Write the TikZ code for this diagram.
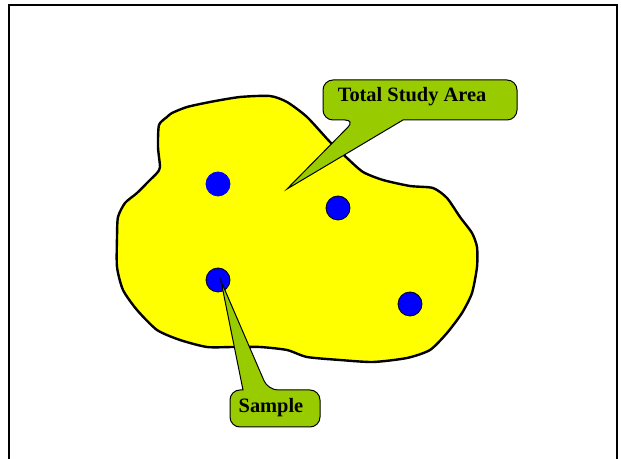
\documentclass[tikz,border=0pt]{standalone}
\usepackage{fontspec}
\setmainfont{Liberation Serif}
\usetikzlibrary{positioning}
\definecolor{studyyellow}{RGB}{255,255,0}
\definecolor{sampleblue}{RGB}{0,0,255}
\definecolor{calloutgreen}{RGB}{153,204,0}
\tikzset{
  sample dot/.style={circle,draw,line width=0.4pt,fill=sampleblue,minimum size=12pt,inner sep=0pt},
  callout/.style={draw,line width=0.5pt,fill=calloutgreen},
  callout text/.style={font=\bfseries\fontsize{10.2}{12}\selectfont,inner sep=0pt},
}

\begin{document}
\begin{tikzpicture}[x=0.5pt,y=-0.5pt]
        \useasboundingbox (0,0) rectangle (621,459);
        % frame
        \draw[line width=1.1pt] (9,470) -- (9,5) -- (617,5) -- (617,470);

        % study area
        \draw[line width=1.2pt,fill=studyyellow] plot[smooth cycle,tension=0.4] coordinates {
          (160,167) (158,147) (159,125) (167,117) (172,113) (187,107) (210,102)
          (240,97) (270,96) (287,102) (307,117) (330,142) (347,158) (363,172)
          (383,180) (410,186) (433,188) (447,198) (460,217) (472,233) (477,247)
          (477,267) (472,293) (462,313) (447,333) (430,350) (407,358) (373,362)
          (340,360) (307,357) (287,350) (260,347) (233,347) (207,347) (180,340)
          (157,330) (137,310) (123,290) (117,267) (117,237) (118,217) (125,203)
          (137,193) (150,180) (157,173)};

        % samples
        \node[sample dot,draw=sampleblue] (s1) at (218,184) {};
        \node[sample dot] (s2) at (338,208) {};
        \node[sample dot] (s3) at (218,280) {};
        \node[sample dot] (s4) at (410,304) {};

        % callouts
        \coordinate (areatip) at (287,189);
        \draw[callout] (areatip) -- (403,120) [rounded corners=5pt] -- (517,120) -- (517,80)
          -- (323,80) -- (323,120) -- (355,120) [sharp corners] -- cycle;
        \node[callout text] (arealabel) at (412,97) {Total Study Area};

        \draw[callout] ([shift={(3,1)}]s3.center) -- (243,390) [rounded corners=5pt] -- (230,390)
          -- (230,427) -- (320,427) -- (320,390) -- (268,390) [sharp corners] -- cycle;
        \node[callout text] (samplelabel) at (271,408) {Sample};
\end{tikzpicture}
\end{document}
